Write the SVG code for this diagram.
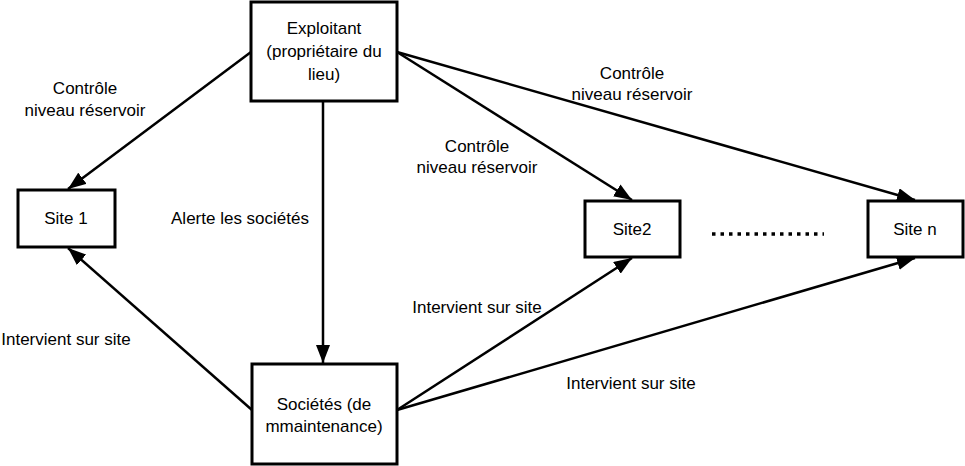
<svg xmlns="http://www.w3.org/2000/svg" width="965" height="466" viewBox="0 0 965 466">
<defs>
<style>
.box{fill:#fff;stroke:#000;stroke-width:3}
.t{font-family:"Liberation Sans",Arial,sans-serif;font-size:17px;fill:#000;text-anchor:middle}
</style>
<marker id="a" viewBox="0 0 10 10" refX="10" refY="5" markerWidth="18" markerHeight="14" markerUnits="userSpaceOnUse" orient="auto" preserveAspectRatio="none">
<path d="M0,0 L10,5 L0,10 z" fill="#000"/>
</marker>
</defs>
<rect width="965" height="466" fill="#fff"/>
<g id="connectors" stroke="#000" stroke-width="2.5" fill="none">
<line x1="251" y1="52" x2="68" y2="189" marker-end="url(#a)"/>
<line x1="323" y1="101" x2="323" y2="363" marker-end="url(#a)"/>
<line x1="397" y1="52" x2="632" y2="200" marker-end="url(#a)"/>
<line x1="397" y1="52" x2="915" y2="200" marker-end="url(#a)"/>
<line x1="252" y1="410" x2="68" y2="248" marker-end="url(#a)"/>
<line x1="397" y1="410" x2="632" y2="258" marker-end="url(#a)"/>
<line x1="397" y1="410" x2="915" y2="258" marker-end="url(#a)"/>
<line x1="712" y1="234" x2="824" y2="234" stroke-width="3.5" stroke-dasharray="3.5,5"/>
</g>
<g id="exploitant">
<rect class="box" x="251" y="2" width="146" height="99"/>
<text class="t" x="324" y="34">Exploitant</text>
<text class="t" x="324" y="57">(propriétaire du</text>
<text class="t" x="324" y="80">lieu)</text>
</g>
<g id="site1">
<rect class="box" x="18" y="190" width="97" height="57"/>
<text class="t" x="66" y="224">Site 1</text>
</g>
<g id="site2">
<rect class="box" x="585" y="201" width="95" height="56"/>
<text class="t" x="632" y="235">Site2</text>
</g>
<g id="siten">
<rect class="box" x="868" y="201" width="95" height="56"/>
<text class="t" x="915" y="235">Site n</text>
</g>
<g id="societes">
<rect class="box" x="252" y="364" width="145" height="100"/>
<text class="t" x="324" y="410">Sociétés (de</text>
<text class="t" x="324" y="432">mmaintenance)</text>
</g>
<g id="labels">
<text class="t" x="85" y="94">Contrôle</text>
<text class="t" x="85" y="116">niveau réservoir</text>
<text class="t" x="632" y="79">Contrôle</text>
<text class="t" x="632" y="100">niveau réservoir</text>
<text class="t" x="477" y="152">Contrôle</text>
<text class="t" x="477" y="173">niveau réservoir</text>
<text class="t" x="240" y="224">Alerte les sociétés</text>
<text class="t" x="477" y="313">Intervient sur site</text>
<text class="t" x="66" y="345">Intervient sur site</text>
<text class="t" x="631" y="389">Intervient sur site</text>
</g>
</svg>
